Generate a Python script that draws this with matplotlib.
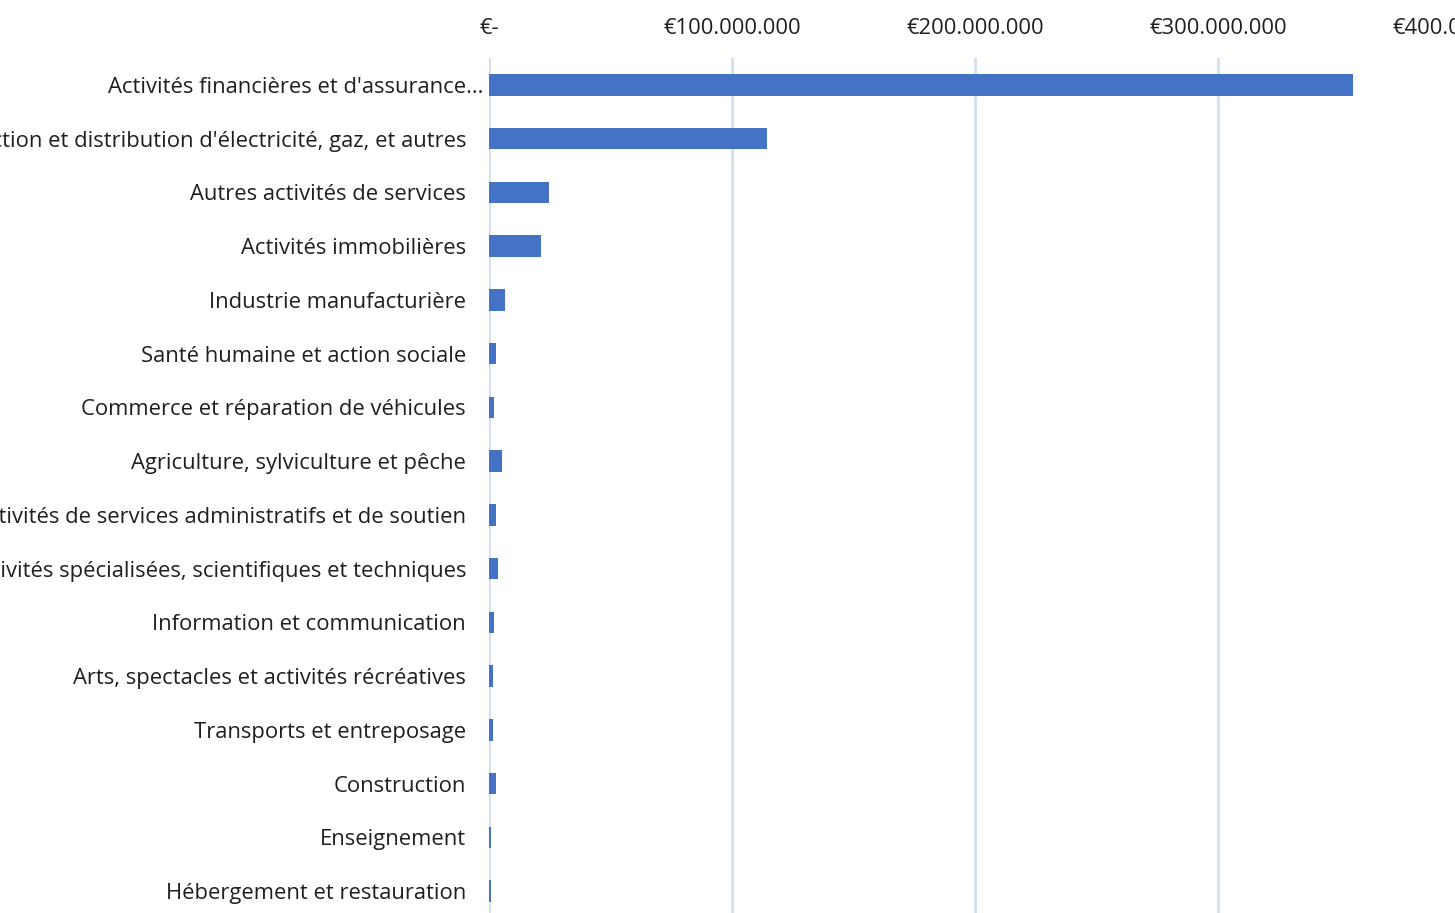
import matplotlib
matplotlib.use("Agg")
import matplotlib.pyplot as plt
from matplotlib.ticker import FuncFormatter
from matplotlib.transforms import ScaledTranslation

plt.rcParams["font.family"] = ["Open Sans", "DejaVu Sans"]

# Montants par secteur (en euros)
secteurs = [
    "Activités financières et d'assurance...",
    "Production et distribution d'électricité, gaz, et autres",
    "Autres activités de services",
    "Activités immobilières",
    "Industrie manufacturière",
    "Santé humaine et action sociale",
    "Commerce et réparation de véhicules",
    "Agriculture, sylviculture et pêche",
    "Activités de services administratifs et de soutien",
    "Activités spécialisées, scientifiques et techniques",
    "Information et communication",
    "Arts, spectacles et activités récréatives",
    "Transports et entreposage",
    "Construction",
    "Enseignement",
    "Hébergement et restauration",
]
montants = [
    355.6e6, 114.4e6, 24.7e6, 21.4e6, 6.6e6, 3.0e6, 2.2e6, 5.2e6,
    3.0e6, 3.8e6, 2.2e6, 1.5e6, 1.5e6, 3.0e6, 0.7e6, 0.7e6,
]
x_ticks = [0, 100e6, 200e6, 300e6, 400e6]


def euro_fmt(v, _pos):
    if v == 0:
        return "€-"
    return "€" + f"{v:,.0f}".replace(",", ".")


fig = plt.figure(figsize=(14.55, 9.13), dpi=100)
# l'axe dépasse légèrement à droite et en bas, comme la capture d'origine
ax = fig.add_axes([489 / 1455, 1 - 918 / 913, (1461 - 489) / 1455, (918 - 58) / 913])

pos = list(range(len(secteurs)))
ax.barh(pos, montants, height=0.4, color="#4472C4", zorder=3)
ax.set_ylim(len(secteurs) - 0.5, -0.5)
ax.set_xlim(0, 400e6)

ax.set_xticks(x_ticks)
ax.xaxis.set_major_formatter(FuncFormatter(euro_fmt))
ax.xaxis.tick_top()
ax.tick_params(axis="x", length=0, pad=14, labelsize=15.8, colors="#1f1f1f")
ax.set_yticks(pos)
ax.set_yticklabels(secteurs)
ax.tick_params(axis="y", length=0, pad=16.5, labelsize=15.8, colors="#1f1f1f")

# Excel place le libellé tronqué plus près de l'axe
first = ax.get_yticklabels()[0]
first.set_transform(first.get_transform() + ScaledTranslation(17 / 100, 0, fig.dpi_scale_trans))

ax.grid(axis="x", color="#D6DFF0", linewidth=2, zorder=0)
for s in ax.spines.values():
    s.set_visible(False)

fig.savefig("out.png", dpi=100)
